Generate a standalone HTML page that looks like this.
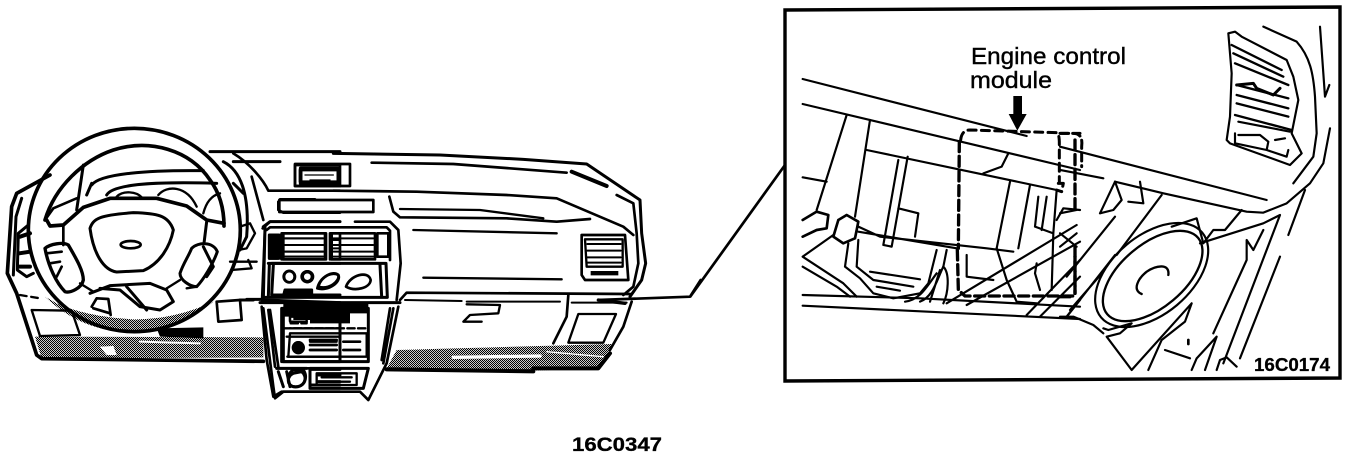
<!DOCTYPE html>
<html><head><meta charset="utf-8"><style>
html,body{margin:0;padding:0;background:#fff;width:1360px;height:458px;overflow:hidden}
svg{display:block}
text{fill:#000;font-family:"Liberation Sans",sans-serif}
.a path,.a rect,.a ellipse{fill:none;stroke:#000;stroke-linejoin:round;stroke-linecap:round}
</style></head><body>
<svg width="1360" height="458" viewBox="0 0 1360 458" xmlns="http://www.w3.org/2000/svg">
<defs><pattern id="d" width="6" height="6" patternUnits="userSpaceOnUse"><rect width="6" height="6" fill="#fff"/><rect width="3.6" height="3.6" fill="#000"/><rect x="3" y="3" width="3.6" height="3.6" fill="#000"/></pattern></defs>

<!-- left of the dashboard -->
<g class="a" transform="translate(0,120) scale(.33333)" stroke-width="9">
<path d="M105 650L790 652L790 712L125 716Z" style="fill:url(#d);stroke:none"/>
<path d="M135 530Q250 640 400 635Q540 630 640 545Q520 600 400 598Q260 590 170 550Z" style="fill:url(#d);stroke:none"/>
<path d="M470 625L610 622L610 655L480 650Z" style="fill:#000;stroke:none"/>
<path d="M300 680L340 678L350 705L320 705Z" style="fill:#fff;stroke:none"/>
<path d="M420 665L600 670" style="stroke:#fff" stroke-width="6"/>
<path d="M150 165L50 220L35 260L22 460L50 520L110 705L125 716L790 724" stroke-width="11"/>
<path d="M65 235L48 290L40 465M85 315L55 340L52 450L80 470L100 460"/>
<path d="M60 350L90 340M58 400L90 395M58 440L90 440" stroke-width="12"/>
<path d="M95 570L215 572L240 645L120 648Z" stroke-width="7"/>
<path d="M60 525L120 535" stroke-width="7" stroke-dasharray="20 14"/>
<ellipse cx="403" cy="330" rx="318" ry="305" stroke-width="11"/>
<path d="M135 300C165 200 250 120 340 90C450 55 570 90 630 180C660 220 672 270 672 318" stroke-width="11"/>
<path d="M250 135L230 270M275 195C300 160 450 150 610 152M260 225L275 190M320 225C340 190 480 185 650 190"/>
<path d="M140 300L150 318L190 315L250 262L330 235L470 235L560 258L620 300L672 310" stroke-width="11"/>
<path d="M135 300L160 265L230 235" stroke-width="8"/>
<path d="M350 230C370 210 410 215 425 232M475 225C500 195 560 195 590 260M610 280C620 240 640 225 660 220" stroke-width="7"/>
<path d="M270 325C280 295 300 285 400 278C470 280 505 285 520 330C510 380 480 430 430 452L350 456C310 450 280 400 270 325Z" stroke-width="9"/>
<ellipse cx="392" cy="374" rx="30" ry="11" stroke-width="8"/>
<path d="M135 385C150 372 190 365 205 375C225 410 250 450 250 480C245 505 210 520 195 515C170 490 145 440 135 385Z" stroke-width="10"/>
<path d="M190 315V375M140 400L185 395M150 430L180 425M170 470L185 440" stroke-width="8"/>
<path d="M575 385C595 365 640 365 652 395C640 430 610 480 590 500C570 500 540 480 540 460C550 430 565 410 575 385ZM610 380L640 440L620 470M620 305L612 370" stroke-width="9"/>
<path d="M240 490L280 515M500 505L540 480M560 505L590 500" stroke-width="7"/>
<path d="M270 520L330 497L450 490L500 510L520 545L480 570L420 560L360 510L300 505M380 500L440 570" stroke-width="9"/>
<path d="M275 560L290 535L325 537L332 585M280 565L330 580" stroke-width="8"/>
<path d="M650 545L720 540L725 600L655 605Z" stroke-width="8"/>
<path d="M630 95H1020M700 125H840M670 125C720 150 750 220 740 350L720 390M700 190L730 220" stroke-width="9"/>
<path d="M700 100C750 130 790 180 805 212H1020M755 170L790 300" stroke-width="8"/>
<path d="M720 320L750 310L765 340L740 385L715 390M690 425H770M695 450L755 445L745 420" stroke-width="7"/>
<path d="M885 135H1020V198H885ZM900 150H1015V185H900Z" stroke-width="8"/>
<path d="M840 238H945M835 245V270L850 278H1020" stroke-width="8"/>
<path d="M790 320L810 305H1020M795 320L790 540L1020 548M740 538H790" stroke-width="9"/>
<path d="M808 350H830V415H808ZM850 340H975V418H850ZM995 340H1020V418H995Z" stroke-width="8"/>
<path d="M808 345H835V415H808Z" style="fill:#000"/>
<path d="M852 355H970M852 375H970M852 395H970M852 410H970M1000 360H1020M1000 385H1020" stroke-width="6"/>
<path d="M815 430H1020M820 435L815 525H1020" stroke-width="9"/>
<ellipse cx="868" cy="470" rx="16" ry="17" stroke-width="8"/><ellipse cx="922" cy="470" rx="15" ry="15" stroke-width="10"/>
<path d="M955 500C965 465 1000 455 1015 465C1020 485 985 510 955 500Z" stroke-width="8"/>
<path d="M855 510H935V530H850Z" style="fill:#000"/>
<path d="M790 565L820 800L825 835L850 815H1020M810 570L835 740M830 745H1020" stroke-width="8"/>
<path d="M850 565H1020V725H850Z" style="fill:#fff" stroke-width="9"/>
<path d="M880 555H1020V590H950V600H880Z" style="fill:#000;stroke:none"/>
<path d="M870 585H920V605H870ZM870 625H1020" stroke-width="7"/>
<ellipse cx="895" cy="680" rx="17" ry="17" style="fill:#000;stroke:none"/>
<path d="M860 650H1020M862 710H1020M930 665H1010M930 690H1010" stroke-width="7"/>
<path d="M860 755L870 800M880 760C860 770 860 795 880 800C915 805 925 770 905 755Z" stroke-width="9"/>
<path d="M930 748H1020M930 750V795H1020M955 765H1020M955 785H1020" stroke-width="9"/>
</g>

<!-- right of the dashboard -->
<g class="a" transform="translate(240,120) scale(.33333)" stroke-width="8">
<path d="M470 690L1115 672L1105 710L1075 745L880 752L440 745Z" style="fill:url(#d);stroke:none"/>
<path d="M440 748L880 754M880 745L1075 745L1110 700" stroke-width="12"/>
<path d="M640 712L900 708" style="stroke:#fff" stroke-width="10"/>
<path d="M920 695L1090 710" style="stroke:#fff" stroke-width="4"/>
<path d="M280 100L600 105L850 118L1040 132L1200 240L1205 340L1217 430L1205 480L1170 530" stroke-width="9"/>
<path d="M395 128L640 132L980 158"/>
<path d="M995 155L1100 198" stroke-width="12"/>
<path d="M1130 225L1180 250L1190 340L1195 430L1180 500L1150 525"/>
<path d="M280 212L530 215L800 225L950 235L1150 320L1180 345"/>
<path d="M165 132H330V198H165Z"/>
<path d="M182 145H295V190H182Z" stroke-width="11"/>
<path d="M195 165H280M210 180H270" stroke-width="4" style="stroke:#000"/>
<path d="M118 240H400V276H118Z" stroke-width="8"/>
<path d="M448 230L460 275L480 292L800 295L950 305L1050 297"/>
<path d="M480 267L720 270L910 295M520 330L950 340M550 473L965 478" stroke-width="7"/>
<path d="M1025 345H1155L1165 480L1035 480L1025 465Z"/>
<path d="M1035 358H1148V440H1040Z" stroke-width="7"/>
<path d="M1042 372H1142M1042 392H1142M1042 412H1142M1042 428H1142" stroke-width="6"/>
<path d="M1052 453H1135V466H1052Z" style="fill:#000;stroke:none"/>
<path d="M68 325L90 305H300M345 305H450L475 330L482 430L470 540"/>
<path d="M80 330L90 322H440L450 332V420"/>
<path d="M0 540H40M60 548H480" stroke-width="9"/>
<path d="M75 325L66 545"/>
<path d="M88 345H120V415H88Z" style="fill:#000"/>
<path d="M125 340H258V418H125ZM270 340H405V418H270ZM412 340H445V410H412Z"/>
<path d="M135 355H250M135 375H250M135 395H250M135 410H250M280 355H400M280 375H400M280 395H400M280 410H400" stroke-width="6"/>
<path d="M85 430H438L442 532H70M88 435L85 530M420 435L425 530" stroke-width="9"/>
<ellipse cx="148" cy="470" rx="17" ry="17"/><ellipse cx="202" cy="470" rx="16" ry="15" stroke-width="10"/>
<path d="M232 505C240 470 280 450 295 465C305 485 265 515 232 505ZM318 500C330 465 385 450 392 480C390 505 345 515 318 500Z"/>
<path d="M135 510H215V530H130Z" style="fill:#000"/>
<path d="M65 560L80 720L100 830L125 815H360L385 840L440 730L475 560"/>
<path d="M85 570L105 740M450 565L425 720M460 565L430 730"/>
<path d="M125 565H385V725H125Z" stroke-width="9"/>
<path d="M130 550H385V580H330V610H210V590H130Z" style="fill:#000;stroke:none"/>
<path d="M150 590H200V610H150ZM130 625H380" stroke-width="7" stroke-dasharray="22 10"/>
<path d="M150 640H380V710H145Z" stroke-width="7"/>
<ellipse cx="175" cy="683" rx="20" ry="20" style="fill:#000;stroke:none"/>
<path d="M210 660H290M210 675H290M210 690H290M310 665H360M310 690H360" stroke-width="8"/>
<path d="M110 745H200M115 755L130 800M160 750C140 760 140 795 160 800C195 805 205 770 190 750Z" stroke-width="9"/>
<path d="M210 745H385L370 805H210Z" stroke-width="9"/>
<path d="M230 760H350V795H230ZM245 772H335M245 785H330" stroke-width="7"/>
<path d="M480 540L500 518L1170 522" stroke-width="8"/>
<path d="M495 540L665 543M680 545L960 545M995 548L1160 548" stroke-width="6"/>
<path d="M680 553L780 555L775 580L690 585L670 605H725" stroke-width="7"/>
<path d="M985 525L980 590L940 670M1175 545L1150 620L1110 690"/>
<path d="M1015 582H1128L1090 668H985Z" stroke-width="7"/>
<path d="M1075 540L1155 550" stroke-width="10"/>
<path d="M1075 540L1350 530L1382 480" stroke-width="8"/>
</g>

<path d="M690 297L785 165" stroke="#000" stroke-width="2.7" fill="none"/>
<path d="M785 10L1340 7V378L785 381Z" fill="none" stroke="#000" stroke-width="3.4"/>

<!-- inset left -->
<g class="a" transform="translate(780,0) scale(.33333)" stroke-width="6.5">
<path d="M68 237L740 408M68 312L900 510M260 450L830 570M68 532L140 545"/>
<path d="M200 345L110 630M270 360L225 650M355 480L310 735L335 740L383 470M355 625L415 640L405 710"/>
<path d="M235 680L300 710L620 745L700 755M235 695L530 745"/>
<path d="M690 545L650 745M750 555L715 745M610 520L665 500L685 460"/>
<path d="M68 660L110 635L145 645L140 685L110 690L68 710M175 660L200 645L235 665L225 715L190 730L160 710L175 660" stroke-width="8"/>
<path d="M68 770L160 705M68 770L190 850L230 890M68 800L170 860L210 890"/>
<path d="M205 730L195 800L240 835L280 880L340 895L420 880L445 850L470 750M235 720L230 800L280 840L400 860"/>
<path d="M270 815L420 838M290 860L360 872"/>
<path d="M375 905C420 900 440 860 470 820M420 905C460 890 470 840 490 800C510 820 505 880 490 910M450 905L480 810"/>
<path d="M68 885L420 895L900 920M68 917L900 957"/>
<path d="M500 750L490 800M560 765V830L640 840M650 745L680 840L710 905L770 910"/>
<path d="M500 910L890 675M560 915L900 725M740 945L900 780M780 950L900 830M860 950L900 900"/>
<path d="M775 590L765 680L820 700L830 570M800 590L785 690M820 700L815 870"/>
<path d="M830 660L850 625L900 630M770 790L765 820L780 870"/>
<path d="M542 420Q545 390 570 390L830 398Q838 400 838 430V550M835 550L850 550L845 575L830 570M842 400H900" stroke-width="9" stroke-dasharray="24 16" stroke-linecap="butt"/>
<path d="M538 425L535 745M532 750L535 870L555 888H880M885 770V880" stroke-width="10" stroke-dasharray="30 14" stroke-linecap="butt"/>
<path d="M700 288H726V342H740L712 392L686 342H700Z" style="fill:#000;stroke:none"/>
</g>

<!-- inset right -->
<g class="a" transform="translate(1060,0) scale(.33333)" stroke-width="6.5">
<path d="M0 440L620 600M0 510L130 535M165 545L310 580L560 635L610 638L680 610L750 550L790 490L810 385"/>
<path d="M610 80L710 125C750 170 760 220 765 290L770 400L760 470L700 550M780 80L795 290L808 255"/>
<path d="M505 100L525 95L545 110L680 180L700 230L715 300L695 400L725 460L690 495L510 430L500 420L510 350L515 220Z"/>
<path d="M515 135L665 210M520 160L670 230M525 190L685 255M530 255L685 295M530 285L685 325M530 310L685 350M525 345L695 390" stroke-width="7"/>
<path d="M530 255L580 250L590 265L640 285L660 265" stroke-width="9"/>
<path d="M535 365L690 395M525 400V430L620 450M535 405H600L625 425L620 450L680 470L685 450M645 420L675 415"/>
<path d="M120 640L165 545L185 600L160 630L120 640M205 605L250 610L240 545"/>
<path d="M20 950L165 765M170 765L305 585M165 650L20 830M130 815L30 930"/>
<path d="M0 640L50 630M0 700L50 740M0 740L50 700"/>
<path d="M45 420V630M45 740V880M0 890H40" stroke-width="10" stroke-dasharray="30 14" stroke-linecap="butt"/>
<path d="M0 400H40Q70 400 65 440V500" stroke-width="9" stroke-dasharray="24 14" stroke-linecap="butt"/>
<ellipse cx="278" cy="828" rx="178" ry="95" transform="rotate(-40 278 828)" stroke-width="7"/>
<ellipse cx="275" cy="825" rx="198" ry="118" transform="rotate(-40 275 825)"/>
<path d="M325 825C330 790 290 795 260 815C235 835 215 870 245 882" stroke-width="7"/>
<path d="M335 680L410 655L430 730L460 690L495 690L545 630"/>
<path d="M130 985L145 990L215 970L180 1000L140 1010L215 1110L395 910L375 965L305 1020L265 1110"/>
<path d="M0 950H40L100 975L130 1000M315 1050L390 1075M395 1110L410 1075L470 1010L435 1110M470 1110L480 1080L500 1072L530 1100"/>
<path d="M420 730L610 670L660 645L490 1090M580 750L560 720V780L460 1000M610 690L580 750M735 570L685 705M660 770L540 1075"/>
<path d="M385 1020V1032" stroke-width="8"/>
</g>

<text x="971" y="64" font-size="23" textLength="155" lengthAdjust="spacingAndGlyphs" stroke="#000" stroke-width=".4">Engine control</text>
<text x="970" y="88" font-size="23" textLength="82" lengthAdjust="spacingAndGlyphs" stroke="#000" stroke-width=".4">module</text>
<text x="1254" y="371" font-size="18" font-weight="bold" textLength="76" lengthAdjust="spacingAndGlyphs" stroke="#000" stroke-width=".3">16C0174</text>
<text x="572" y="451" font-size="19" font-weight="bold" textLength="90" lengthAdjust="spacingAndGlyphs" stroke="#000" stroke-width=".3">16C0347</text>
</svg>
</body></html>
